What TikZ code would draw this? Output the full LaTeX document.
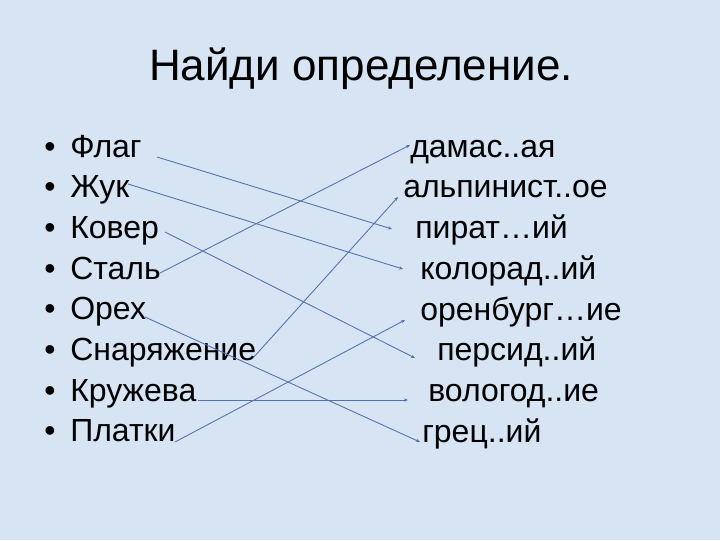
\documentclass[tikz,border=0pt]{standalone}
\usepackage{fontspec}
\setmainfont{Liberation Sans}
\usetikzlibrary{arrows.meta}
\definecolor{bgblue}{RGB}{214,228,243}
\definecolor{linkblue}{RGB}{84,114,172}
\tikzset{
  word/.style={anchor=base west,inner sep=0pt,font=\fontsize{24}{28}\selectfont},
  link/.style={draw=linkblue,line width=0.65pt,-{Stealth[length=3pt,width=2.5pt]}}
}
\begin{document}
\begin{tikzpicture}[x=0.75pt,y=-0.75pt]
\fill[bgblue] (0,0) rectangle (720,540);
\useasboundingbox (0,0) rectangle (720,540);
\node[anchor=base,inner sep=0pt,font=\fontsize{33}{38}\selectfont] (title) at (361,80) {Найди определение.};
% left column
\foreach \w [count=\i] in {Флаг,Жук,Ковер,Сталь,Орех,Снаряжение,Кружева,Платки}{
  \node[word] (b\i) at (44,157+40.7*\i-40.7) {•};
  \node[word] (l\i) at (70,157+40.7*\i-40.7) {\w};
}
% right column
\node[word] (r1) at (410,157) {дамас..ая};
\node[word] (r2) at (403,197) {альпинист..ое};
\node[word] (r3) at (415,238) {пират…ий};
\node[word] (r4) at (420,279) {колорад..ий};
\node[word] (r5) at (420,320) {оренбург…ие};
\node[word] (r6) at (437,360) {персид..ий};
\node[word] (r7) at (428,401) {вологод..ие};
\node[word] (r8) at (422,442) {грец..ий};
% line ends
\coordinate (s1) at (157,157); \coordinate (e1) at (392,229);
\coordinate (s2) at (128,184); \coordinate (e2) at (403,269);
\coordinate (s3) at (165,232); \coordinate (e3) at (415,358);
\coordinate (s4) at (160,273); \coordinate (e4) at (410,145);
\coordinate (s5) at (145,317); \coordinate (e5) at (420,442);
\coordinate (s6) at (253,358); \coordinate (e6) at (398,197);
\coordinate (s7) at (198,400); \coordinate (e7) at (408,400);
\coordinate (s8) at (175,442); \coordinate (e8) at (405,320);
\foreach \i in {1,...,8}
  \draw[link] (s\i) -- (e\i);
\end{tikzpicture}
\end{document}
